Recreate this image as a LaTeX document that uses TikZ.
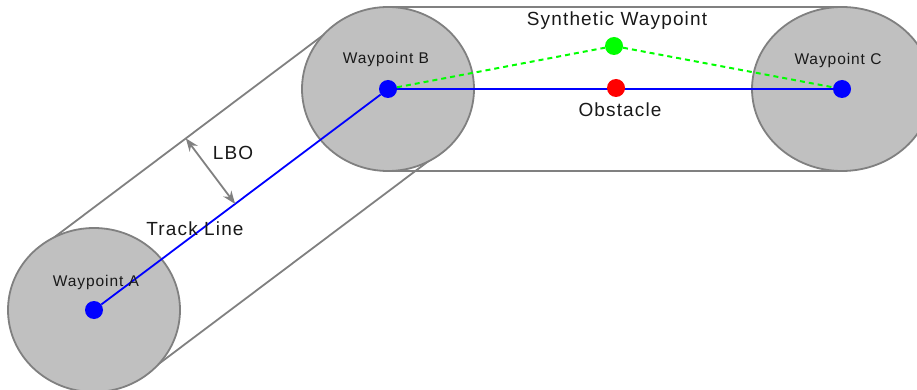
\documentclass[tikz,border=0pt]{standalone}
\usepackage{fontspec}
\setmainfont{Liberation Sans}[LetterSpace=6]
\usepackage{tikz}
\usetikzlibrary{calc,arrows.meta,shapes.geometric}
\pgfdeclarelayer{background}
\pgfdeclarelayer{lines}
\pgfsetlayers{background,lines,main}
\definecolor{zonegray}{HTML}{C0C0C0}
\definecolor{edgegray}{HTML}{808080}
\tikzset{
  zone/.style={ellipse, draw=edgegray, line width=1.8pt, fill=zonegray,
               minimum width=172pt, minimum height=164pt, inner sep=0pt},
  wpdot/.style={circle, minimum size=18pt, inner sep=0pt},
  corridor/.style={draw=edgegray, line width=1.8pt},
  track/.style={blue, line width=1.8pt},
  detour/.style={green, line width=2pt, dash pattern=on 5pt off 4pt},
  lbl/.style={font=\fontsize{19}{22}\selectfont, text=black!90,
              inner sep=0pt, anchor=base},
  wplbl/.style={font=\fontsize{15.5}{18}\selectfont, text=black!90,
                inner sep=0pt, anchor=base},
  lbo/.style={{Stealth[length=13pt,width=10pt]}-{Stealth[length=13pt,width=10pt]},
              draw=edgegray, line width=1.8pt},
}

\begin{document}
\begin{tikzpicture}[x=1pt,y=-1pt]
  \useasboundingbox (0,0) rectangle (917,390);

  % Waypoint centres
  \coordinate (a) at (94,310);
  \coordinate (b) at (388,89);
  \coordinate (c) at (842,89);

  % Corridors and waypoint zones
  \begin{pgfonlayer}{background}
    \draw[corridor] ($(a)!82pt!90:(b)$) -- ($(b)!82pt!-90:(a)$);
    \draw[corridor] ($(a)!82pt!-90:(b)$) -- ($(b)!82pt!90:(a)$);
    \draw[corridor] ($(b)!82pt!90:(c)$) -- ($(c)!82pt!-90:(b)$);
    \draw[corridor] ($(b)!82pt!-90:(c)$) -- ($(c)!82pt!90:(b)$);
    \node[zone] (zoneA) at (a) {};
    \node[zone] (zoneB) at (b) {};
    \node[zone, minimum width=180pt] (zoneC) at (c) {};
  \end{pgfonlayer}

  % Waypoints and points on the leg B--C
  \node[wpdot, fill=blue]  (wpA)   at (a) {};
  \node[wpdot, fill=blue]  (wpB)   at (b) {};
  \node[wpdot, fill=blue]  (wpC)   at (c) {};
  \node[wpdot, fill=green] (synth) at (614,46) {};
  \node[wpdot, fill=red]   (obst)  at (616,88) {};

  % Labels
  \node[wplbl] (labA) at (96,286) {Waypoint A};
  \node[wplbl] (labB) at (386,64) {Waypoint B};
  \node[wplbl] (labC) at (838,65) {Waypoint C};
  \node[lbl] (labSynth) at (617,26)  {Synthetic Waypoint};
  \node[lbl] (labObst)  at (620,117) {Obstacle};
  \node[lbl] (labLBO)   at (233,160) {LBO};
  \node[lbl] (labTrack) at (195,235) {Track Line};

  % Track and detour
  \begin{pgfonlayer}{lines}
    \draw[track] (wpA) -- (wpB);
    \draw[track] (wpB) -- (wpC);
    \draw[detour] (wpB) -- (synth) -- (wpC);
  \end{pgfonlayer}

  % Lateral boundary offset
  \coordinate (lboFoot) at ($(a)!0.48!(b)$);
  \coordinate (lboEdge) at ($(lboFoot)!82pt!90:(b)$);
  \draw[lbo] (lboEdge) -- (lboFoot);

\end{tikzpicture}
\end{document}
